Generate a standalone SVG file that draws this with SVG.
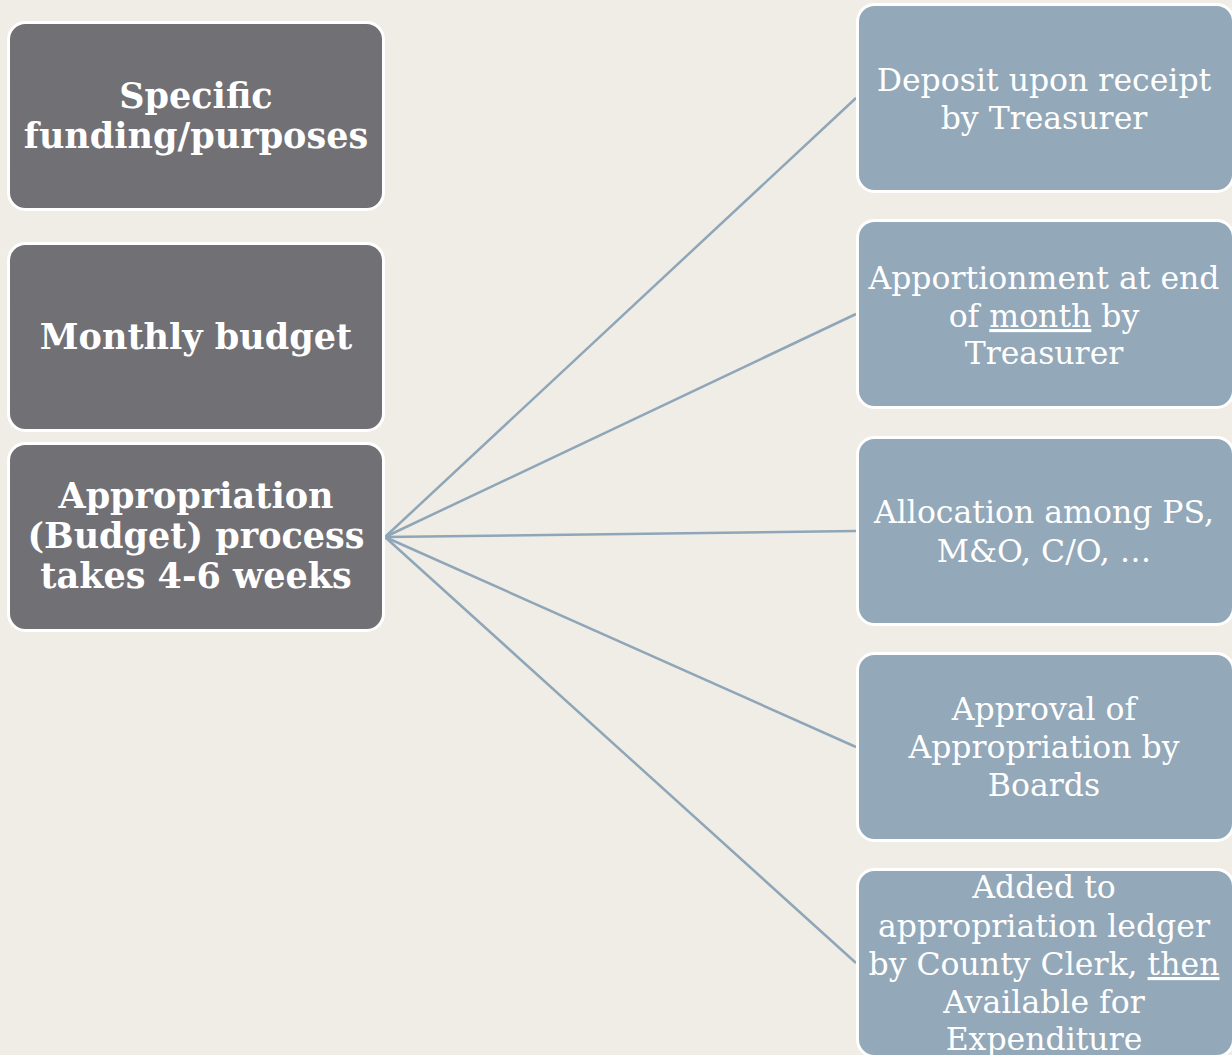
<svg xmlns="http://www.w3.org/2000/svg" width="1232" height="1055" viewBox="0 0 1232 1055">
<style>
.bg{fill:#f0ede6}
.l{fill:#717075;stroke:#ffffff;stroke-width:3}
.r{fill:#93a8b8;stroke:#ffffff;stroke-width:3}
.lt{font-family:"DejaVu Serif","Liberation Serif",serif;font-weight:bold;font-size:35px;fill:#ffffff;text-anchor:middle}
.rt{font-family:"DejaVu Serif","Liberation Serif",serif;font-size:31.5px;fill:#ffffff;text-anchor:middle}
.c{stroke:#8ea6b8;stroke-width:2.5;fill:none}
.u{text-decoration:underline}
</style>
<rect class="bg" x="0" y="0" width="1232" height="1055"/>
<g id="connectors">
<line class="c" x1="385" y1="537" x2="856" y2="98"/>
<line class="c" x1="385" y1="537" x2="856" y2="314"/>
<line class="c" x1="385" y1="537" x2="856" y2="531"/>
<line class="c" x1="385" y1="537" x2="856" y2="747"/>
<line class="c" x1="385" y1="537" x2="856" y2="963"/>
</g>
<g id="specific">
<rect class="l" x="8.5" y="22.5" width="375" height="187" rx="17"/>
<text class="lt" x="196" y="108">Specific</text>
<text class="lt" x="196" y="148">funding/purposes</text>
</g>
<g id="monthly">
<rect class="l" x="8.5" y="243.5" width="375" height="187" rx="17"/>
<text class="lt" x="196" y="349">Monthly budget</text>
</g>
<g id="appropriation">
<rect class="l" x="8.5" y="443.5" width="375" height="187" rx="17"/>
<text class="lt" x="196" y="508">Appropriation</text>
<text class="lt" x="196" y="548">(Budget) process</text>
<text class="lt" x="196" y="588">takes 4-6 weeks</text>
</g>
<g id="deposit">
<rect class="r" x="857.5" y="4.5" width="376" height="187" rx="17"/>
<text class="rt" x="1044" y="91">Deposit upon receipt</text>
<text class="rt" x="1044" y="129">by Treasurer</text>
</g>
<g id="apportionment">
<rect class="r" x="857.5" y="220.5" width="376" height="187" rx="17"/>
<text class="rt" x="1044" y="289">Apportionment at end</text>
<text class="rt" x="1044" y="327">of <tspan class="u">month</tspan> by</text>
<text class="rt" x="1044" y="364">Treasurer</text>
</g>
<g id="allocation">
<rect class="r" x="857.5" y="437.5" width="376" height="187" rx="17"/>
<text class="rt" x="1044" y="523">Allocation among PS,</text>
<text class="rt" x="1044" y="562">M&amp;O, C/O, …</text>
</g>
<g id="approval">
<rect class="r" x="857.5" y="653.5" width="376" height="187" rx="17"/>
<text class="rt" x="1044" y="720">Approval of</text>
<text class="rt" x="1044" y="758">Appropriation by</text>
<text class="rt" x="1044" y="796">Boards</text>
</g>
<g id="added">
<rect class="r" x="857.5" y="869.5" width="376" height="187" rx="17"/>
<text class="rt" x="1044" y="898">Added to</text>
<text class="rt" x="1044" y="937">appropriation ledger</text>
<text class="rt" x="1044" y="975">by County Clerk, <tspan class="u">then</tspan></text>
<text class="rt" x="1044" y="1013">Available for</text>
<text class="rt" x="1044" y="1050">Expenditure</text>
</g>
</svg>
